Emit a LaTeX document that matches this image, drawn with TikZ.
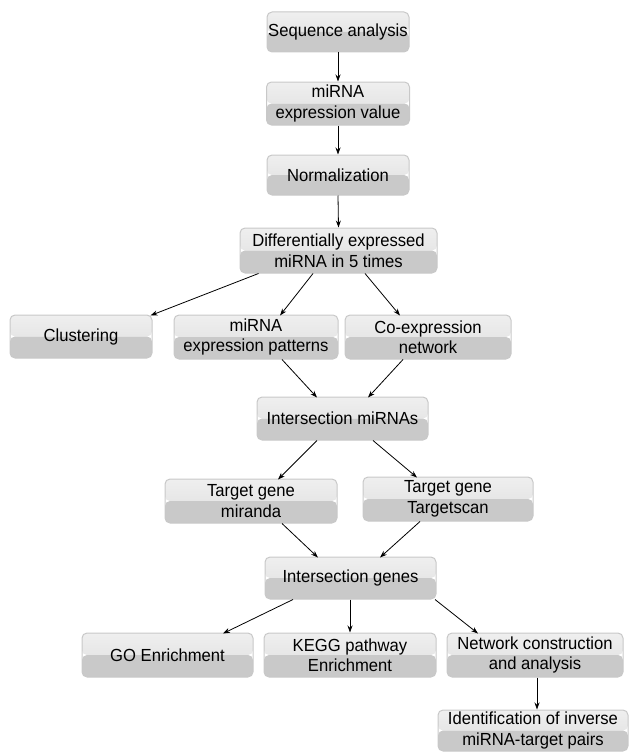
\documentclass[tikz,border=0pt]{standalone}
\usepackage{fontspec}
\setmainfont{Liberation Sans}[FakeStretch=0.95]
\usetikzlibrary{arrows.meta}
\definecolor{boxhi}{HTML}{EFEFEF}
\definecolor{boxmid}{HTML}{DEDEDE}
\definecolor{boxlo}{HTML}{C9C9C9}
\definecolor{boxrim}{HTML}{C8C8C8}
\tikzset{
  procbox/.style={draw=boxrim, line width=1pt, rounded corners=5pt,
    inner sep=0pt, align=center, font=\fontsize{17.5}{20.5}\selectfont,
    path picture={
      \shade[top color=boxhi, bottom color=boxmid]
        (path picture bounding box.north west) rectangle (path picture bounding box.east);
      \fill[boxlo]
        (path picture bounding box.west) rectangle (path picture bounding box.south east);
    }},
  flow/.style={-{Stealth[length=7pt,width=5pt]}, line width=0.8pt}
}
\begin{document}
\begin{tikzpicture}[x=1pt, y=-1pt]
    % Fix the page size
    \useasboundingbox (0,0) rectangle (630,752);

    % Pipeline steps
    \node[procbox, minimum width=142pt, minimum height=40pt] (seq) at (338,32) {Sequence analysis};
    \node[procbox, minimum width=143pt, minimum height=43pt] (val) at (338,103.5) {miRNA\\expression value};
    \node[procbox, minimum width=142pt, minimum height=40pt] (norm) at (338,175) {Normalization};
    \node[procbox, minimum width=197pt, minimum height=45pt] (diff) at (338.5,250.5) {Differentially expressed\\miRNA in 5 times};

    % Three analyses
    \node[procbox, minimum width=142pt, minimum height=43pt] (clus) at (81,336.5) {Clustering};
    \node[procbox, minimum width=164pt, minimum height=44pt] (pat) at (256,337) {miRNA\\expression patterns};
    \node[procbox, minimum width=166pt, minimum height=44pt] (coex) at (428,337) {Co-expression\\network};
    \node[procbox, minimum width=171pt, minimum height=43pt] (imir) at (342.5,418.5) {Intersection miRNAs};

    % Target prediction
    \node[procbox, minimum width=172pt, minimum height=44pt] (mir) at (251,501) {Target gene\\miranda};
    \node[procbox, minimum width=170pt, minimum height=44pt] (tsc) at (448,499) {Target gene\\Targetscan};
    \node[procbox, minimum width=171pt, minimum height=42pt] (igen) at (350.5,578) {Intersection genes};

    % Functional analyses
    \node[procbox, minimum width=171pt, minimum height=44pt] (go) at (167.5,655) {GO Enrichment};
    \node[procbox, minimum width=172pt, minimum height=44pt] (kegg) at (350,655) {KEGG pathway\\Enrichment};
    \node[procbox, minimum width=176pt, minimum height=44pt] (net) at (535,655) {Network construction\\and analysis};
    \node[procbox, minimum width=190pt, minimum height=41pt] (ident) at (533,730.5) {Identification of inverse\\miRNA-target pairs};

    % Arrows
    \draw[flow] (seq.south) -- (val.north);
    \draw[flow] (val.south) -- (norm.north);
    \draw[flow] (norm.south) -- (diff.north);
    \draw[flow] ([xshift=-80pt]diff.south) -- ([xshift=-2pt,yshift=-1pt]clus.north east);
    \draw[flow] ([xshift=-25.5pt]diff.south) -- ([xshift=24pt,yshift=-1pt]pat.north);
    \draw[flow] ([xshift=26.5pt]diff.south) -- ([xshift=-28pt,yshift=-1pt]coex.north);
    \draw[flow] ([xshift=26pt]pat.south) -- ([xshift=-25.5pt,yshift=-1pt]imir.north);
    \draw[flow] ([xshift=-25pt]coex.south) -- ([xshift=25.5pt,yshift=-1pt]imir.north);
    \draw[flow] ([xshift=-25.5pt]imir.south) -- ([xshift=27pt,yshift=-1pt]mir.north);
    \draw[flow] ([xshift=30.5pt]imir.south) -- ([xshift=-31pt,yshift=-1pt]tsc.north);
    \draw[flow] ([xshift=31pt]mir.south) -- ([xshift=-32.5pt,yshift=-1pt]igen.north);
    \draw[flow] ([xshift=-28pt]tsc.south) -- ([xshift=29.5pt,yshift=-1pt]igen.north);
    \draw[flow] ([xshift=-57.5pt]igen.south) -- ([xshift=55.5pt,yshift=-1pt]go.north);
    \draw[flow] (igen.south -| kegg.north) -- (kegg.north);
    \draw[flow] ([xshift=84.5pt]igen.south) -- ([xshift=-57pt,yshift=-1pt]net.north);
    \draw[flow] ([xshift=2pt]net.south) -- ([xshift=2pt]net.south |- ident.north);
\end{tikzpicture}
\end{document}
